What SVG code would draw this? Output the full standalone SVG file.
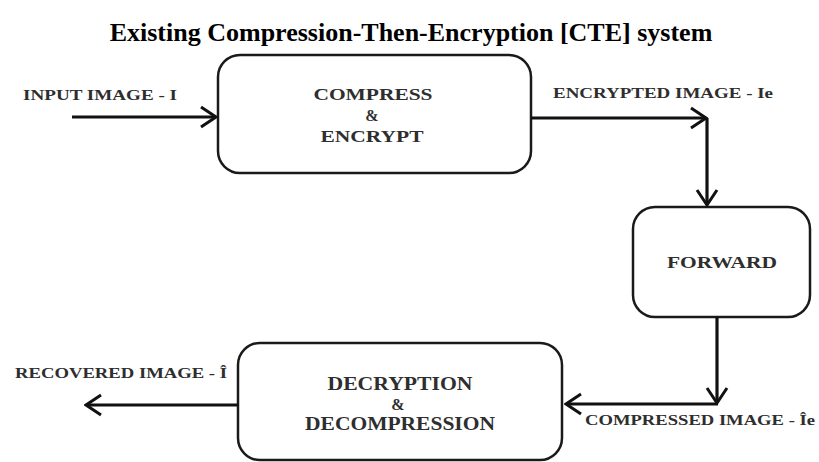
<svg xmlns="http://www.w3.org/2000/svg" width="819" height="462" viewBox="0 0 819 462">
<defs>
<marker id="arr" viewBox="-18 -12 20 24" markerWidth="20" markerHeight="24" refX="0" refY="0" orient="auto" markerUnits="userSpaceOnUse">
<path d="M-15,-10 L0,0 L-15,10" fill="none" stroke="#111" stroke-width="3" stroke-linejoin="miter"/>
</marker>
</defs>
<style>
.box{fill:#fff;stroke:#1a1a1a;stroke-width:2.5}
.lbl{font-weight:bold;fill:#2e2e2e}
.conn{fill:none;stroke:#111;stroke-width:3.2}
.title{font-weight:bold;fill:#000;font-size:26px}
</style>
<rect width="819" height="462" fill="#fff"/>
<g font-family="'Liberation Serif', 'DejaVu Serif', serif">
<text class="title" x="411" y="41" text-anchor="middle">Existing Compression-Then-Encryption [CTE] system</text>

<g id="compress-encrypt">
<rect class="box" x="218" y="55" width="313" height="118" rx="22" ry="22"/>
<text class="lbl" x="373" y="100" font-size="16" text-anchor="middle" textLength="119" lengthAdjust="spacingAndGlyphs">COMPRESS</text>
<text class="lbl" x="372" y="121" font-size="16" text-anchor="middle">&amp;</text>
<text class="lbl" x="372" y="142" font-size="16" text-anchor="middle" textLength="103" lengthAdjust="spacingAndGlyphs">ENCRYPT</text>
</g>

<g id="forward">
<rect class="box" x="633" y="207" width="177" height="110" rx="22" ry="22"/>
<text class="lbl" x="722" y="268" font-size="17" text-anchor="middle" textLength="110" lengthAdjust="spacingAndGlyphs">FORWARD</text>
</g>

<g id="decrypt-decompress">
<rect class="box" x="238" y="343" width="324" height="117" rx="22" ry="22"/>
<text class="lbl" x="400" y="390" font-size="19" text-anchor="middle" textLength="145" lengthAdjust="spacingAndGlyphs">DECRYPTION</text>
<text class="lbl" x="398" y="410" font-size="16" text-anchor="middle">&amp;</text>
<text class="lbl" x="400" y="430" font-size="19" text-anchor="middle" textLength="190" lengthAdjust="spacingAndGlyphs">DECOMPRESSION</text>
</g>

<g id="connectors">
<path class="conn" d="M72,117 H216" marker-end="url(#arr)"/>
<path class="conn" d="M531,118 H706" marker-end="url(#arr)"/>
<path class="conn" d="M707,118 V205" marker-end="url(#arr)"/>
<path class="conn" d="M717,317 V403" marker-end="url(#arr)"/>
<path class="conn" d="M718,404 H566" marker-end="url(#arr)"/>
<path class="conn" d="M238,405 H86" marker-end="url(#arr)"/>
</g>

<g id="labels">
<text class="lbl" x="23" y="100" font-size="14" textLength="154" lengthAdjust="spacingAndGlyphs">INPUT IMAGE - I</text>
<text class="lbl" x="553" y="98" font-size="14" textLength="220" lengthAdjust="spacingAndGlyphs">ENCRYPTED IMAGE - Ie</text>
<text class="lbl" x="15" y="378" font-size="15" textLength="212" lengthAdjust="spacingAndGlyphs">RECOVERED IMAGE - Î</text>
<text class="lbl" x="585" y="425" font-size="15" textLength="230" lengthAdjust="spacingAndGlyphs">COMPRESSED IMAGE - Îe</text>
</g>
</g>
</svg>
